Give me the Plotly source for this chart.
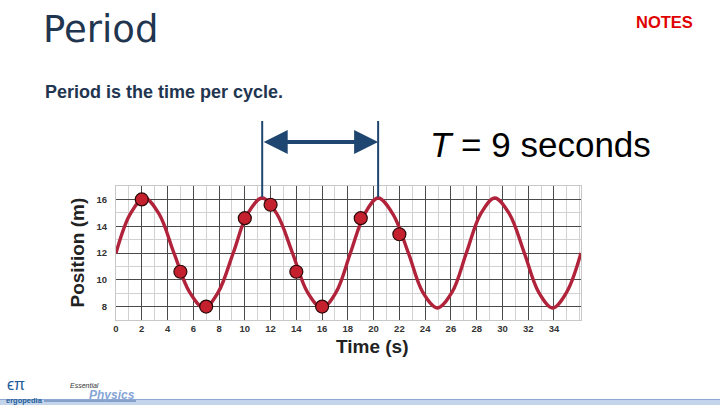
import plotly.graph_objects as go

# ---- data ----
curve_t = [0, 1.1, 2.2, 3.35, 4.5, 5.7, 6.85, 7.95, 9.1, 10.2, 11.35, 12.5, 13.7,
           14.85, 16.0, 17.1, 18.2, 19.3, 20.35, 21.5, 22.7, 23.8, 24.95, 26.1,
           27.2, 28.3, 29.4, 30.55, 31.7, 32.8, 33.9, 35.0, 36.1]
curve_pos = [12.0, 14.9, 16.1, 14.9, 12.0, 9.1, 7.9, 9.1, 12.0, 14.9, 16.1, 14.9, 12.0,
             9.1, 7.9, 9.1, 12.0, 14.9, 16.1, 14.9, 12.0, 9.1, 7.9, 9.1,
             12.0, 14.9, 16.1, 14.9, 12.0, 9.1, 7.9, 9.1, 12.0]
meas_t = [2, 5, 7, 10, 12, 14, 16, 19, 22]
meas_pos = [16.0, 10.6, 8.0, 14.6, 15.6, 10.6, 8.0, 14.6, 13.4]
x_ticks = list(range(0, 35, 2))
y_ticks = [8, 10, 12, 14, 16]
period_start = 11.35
period_end = 20.35

# ---- layout helpers (pixel -> paper) ----
W, H = 720, 405
L, R, T, B = 116, 139, 186, 85
PW, PH = W - L - R, H - T - B


def px(X):
    return (X - L) / PW


def py(Y):
    return (H - B - Y) / PH


NAVY = "#1F3550"
ARROW = "#1F4670"
RED = "#B0233A"
SANS = "Liberation Sans, Arial, sans-serif"

fig = go.Figure()
fig.add_trace(go.Scatter(
    x=curve_t, y=curve_pos, mode="lines",
    line=dict(color=RED, width=3.4, shape="spline", smoothing=1.0),
    hoverinfo="skip", showlegend=False))
fig.add_trace(go.Scatter(
    x=meas_t, y=meas_pos, mode="markers",
    marker=dict(size=13, color="#C4202E", line=dict(color="#2A0808", width=1.2)),
    showlegend=False))

axis_common = dict(
    showline=True, linecolor="#C8C8C8", linewidth=1, mirror=True,
    zeroline=False, ticks="", showgrid=True, gridcolor="#4A4A4A", gridwidth=1,
    tickfont=dict(family=SANS, size=9.5, color="#333333", weight="bold"),
)
fig.update_xaxes(range=[0, 36.1], tickvals=x_ticks, ticktext=[str(v) for v in x_ticks],
                 minor=dict(dtick=1, tick0=0, showgrid=True, gridcolor="#D2D2D2", gridwidth=1),
                 ticklabelstandoff=0, **axis_common)
fig.update_yaxes(range=[7, 17], tickvals=y_ticks, ticktext=[str(v) for v in y_ticks],
                 minor=dict(dtick=1, tick0=0, showgrid=True, gridcolor="#D2D2D2", gridwidth=1),
                 ticklabelstandoff=6, **axis_common)

shapes = []
# period marker lines
for tx in (period_start, period_end):
    shapes.append(dict(type="line", xref="x", yref="paper", x0=tx, x1=tx,
                       y0=py(197), y1=py(121), line=dict(color=ARROW, width=2)))
# bottom bar
shapes.append(dict(type="rect", xref="paper", yref="paper", x0=px(0), x1=px(720),
                   y0=py(405), y1=py(399), fillcolor="#C3D4EB", line=dict(width=0), layer="below"))
shapes.append(dict(type="line", xref="paper", yref="paper", x0=px(0), x1=px(720),
                   y0=py(399.5), y1=py(399.5), line=dict(color="#8EA8D2", width=1)))
shapes.append(dict(type="line", xref="paper", yref="paper", x0=px(44), x1=px(136),
                   y0=py(401), y1=py(401), line=dict(color="#4A6FA8", width=1)))

ann = []


def text(X, Y, s, size, color, xa="left", weight="normal", family=SANS, angle=0, style="normal"):
    ann.append(dict(xref="paper", yref="paper", x=px(X), y=py(Y), text=s, showarrow=False,
                    xanchor=xa, yanchor="middle", textangle=angle,
                    font=dict(family=family, size=size, color=color, weight=weight, style=style)))


text(41, 29, "Period", 37, NAVY, family="DejaVu Sans, sans-serif")
text(664, 22, "NOTES", 16.5, "#E00000", xa="center", weight="bold")
text(43, 92, "Period is the time per cycle.", 18, NAVY, weight="bold")
text(428, 144, "<i>T</i> = 9 seconds", 35, "#000000")
text(77, 252.5, "Position (m)", 19, "#222222", xa="center", weight="bold", angle=-90)
text(372, 346, "Time (s)", 19, "#222222", xa="center", weight="bold")
# logo
text(5, 384, "\u03f5\u03c0", 16, "#1F5C99")
text(4, 400, "ergopedia", 7.5, "#1F5C99", weight="bold")
text(68, 385, "Essential", 7, "#333333", style="italic")
text(87, 395, "Physics", 12, "#86A6D6", weight="bold", style="italic")

# double-headed arrow
ann.append(dict(xref="x", yref="paper", x=period_end, y=py(142), axref="x", ax=period_start,
                ayref="pixel", ay=0, text="", showarrow=True, arrowhead=2, startarrowhead=2,
                arrowside="end+start", arrowwidth=4, arrowsize=1.2, startarrowsize=1.2,
                arrowcolor=ARROW, font=dict(size=1)))

fig.update_layout(
    width=W, height=H, margin=dict(l=L, r=R, t=T, b=B),
    paper_bgcolor="white", plot_bgcolor="white",
    shapes=shapes, annotations=ann, showlegend=False,
)
fig.write_html("out.html")
